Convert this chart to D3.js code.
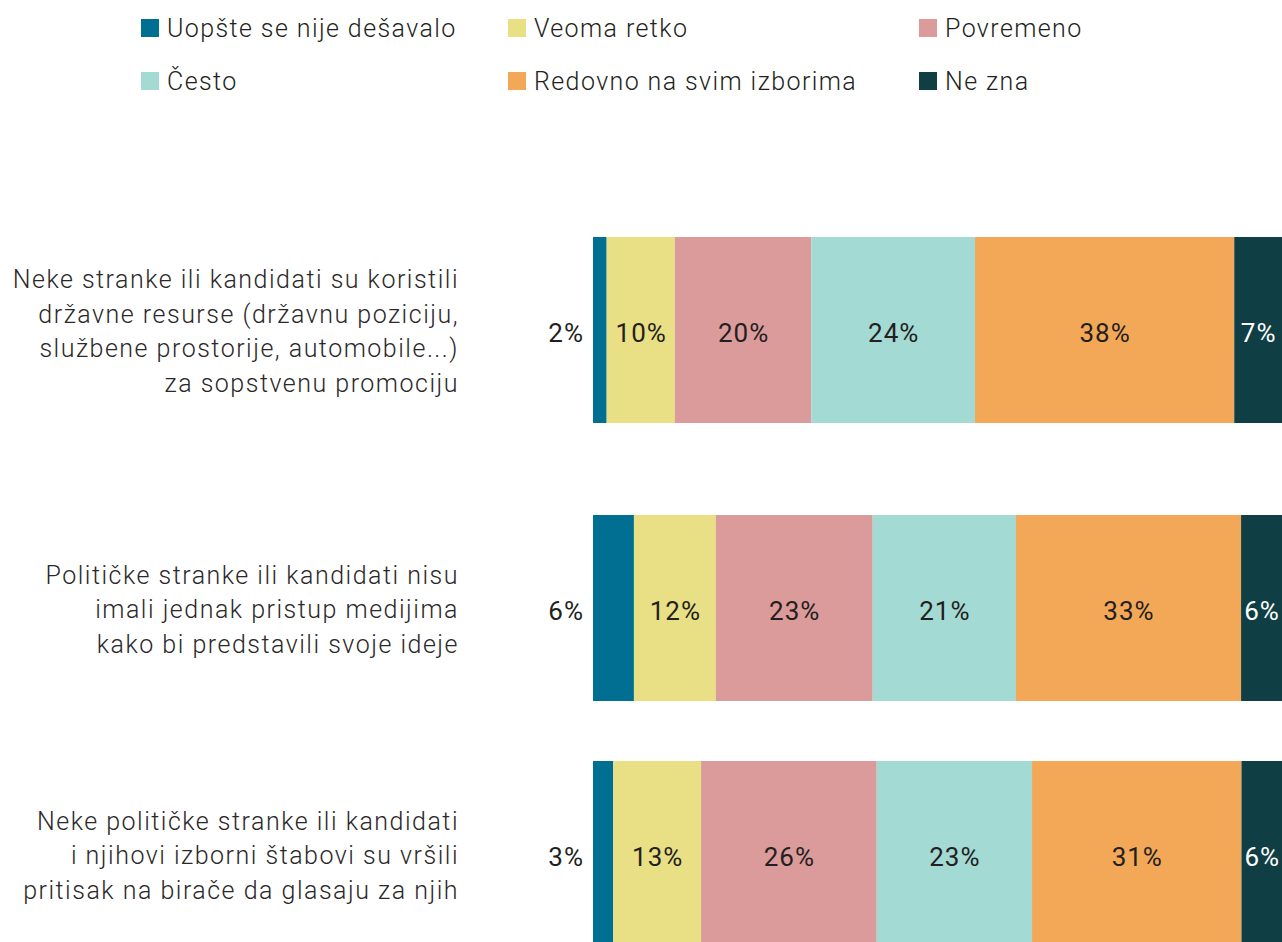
<!DOCTYPE html>
<html>
<head>
<meta charset="utf-8">
<script src="https://cdn.jsdelivr.net/npm/d3@7"></script>
<style>
  html, body { margin: 0; padding: 0; background: #fff; }
  svg { display: block; }
  text { font-family: Roboto, "Noto Sans", sans-serif; }
</style>
</head>
<body>
<svg id="chart" width="1282" height="942"></svg>
<script>
// ---------- data ----------
const categories = [
  "Neke stranke ili kandidati su koristili državne resurse (državnu poziciju, službene prostorije, automobile...) za sopstvenu promociju",
  "Političke stranke ili kandidati nisu imali jednak pristup medijima kako bi predstavili svoje ideje",
  "Neke političke stranke ili kandidati i njihovi izborni štabovi su vršili pritisak na birače da glasaju za njih"
];
const categoryLines = [
  ["Neke stranke ili kandidati su koristili", "državne resurse (državnu poziciju,", "službene prostorije, automobile...)", "za sopstvenu promociju"],
  ["Političke stranke ili kandidati nisu", "imali jednak pristup medijima", "kako bi predstavili svoje ideje"],
  ["Neke političke stranke ili kandidati", "i njihovi izborni štabovi su vršili", "pritisak na birače da glasaju za njih"]
];
const seriesNames = ["Uopšte se nije dešavalo", "Veoma retko", "Povremeno", "Često", "Redovno na svim izborima", "Ne zna"];
const uopsteSeNijeDesavalo = [2, 6, 3];
const veomaRetko = [10, 12, 13];
const povremeno = [20, 23, 26];
const cesto = [24, 21, 23];
const redovnoNaSvimIzborima = [38, 33, 31];
const neZna = [7, 6, 6];
const seriesColors = ["#016f92", "#e9df85", "#db9b9b", "#a3dad3", "#f3a857", "#0f3f45"];

// ---------- build table ----------
const seriesValues = [uopsteSeNijeDesavalo, veomaRetko, povremeno, cesto, redovnoNaSvimIzborima, neZna];
const table = categories.map((c, i) => {
  const row = { category: c };
  seriesNames.forEach((s, j) => row[s] = seriesValues[j][i]);
  return row;
});
const stacked = d3.stack().keys(seriesNames).offset(d3.stackOffsetExpand)(table);

// ---------- layout ----------
const svg = d3.select("#chart");
const x = d3.scaleLinear().domain([0, 1]).range([593, 1282]);
const yTop = d3.scaleOrdinal().domain(categories).range([237, 515, 761]);
const barH = 186;
const color = d3.scaleOrdinal().domain(seriesNames).range(seriesColors);
const textColor = "#231f20";

// ---------- legend ----------
const legendCol = d3.scaleOrdinal().domain([0, 1, 2]).range([141, 508, 919]);
const legendRow = d3.scaleOrdinal().domain([0, 1]).range([19, 72]);
const legend = svg.append("g").selectAll("g").data(seriesNames).join("g")
  .attr("transform", (d, i) => `translate(${legendCol(i % 3)},${legendRow(Math.floor(i / 3))})`);
legend.append("rect").attr("width", 18).attr("height", 18).attr("fill", d => color(d));
legend.append("text").attr("x", 26).attr("y", 18)
  .attr("font-size", 25).attr("font-weight", 300).attr("letter-spacing", 1.4)
  .attr("fill", textColor).text(d => d);

// ---------- bars ----------
const layers = svg.append("g").selectAll("g").data(stacked).join("g")
  .attr("fill", d => color(d.key));
layers.selectAll("rect").data(d => d).join("rect")
  .attr("x", d => x(d[0]))
  .attr("y", d => yTop(d.data.category))
  .attr("width", d => x(d[1]) - x(d[0]))
  .attr("height", barH);

// ---------- value labels ----------
stacked.forEach((layer, si) => {
  svg.append("g").selectAll("text").data(layer).join("text")
    .attr("x", d => si === 0 ? x(d[0]) - 9 : (x(d[0]) + x(d[1])) / 2 + 0.5)
    .attr("y", d => yTop(d.data.category) + barH / 2 + 12)
    .attr("text-anchor", si === 0 ? "end" : "middle")
    .attr("font-size", 26)
    .attr("font-weight", 400)
    .attr("letter-spacing", 1)
    .attr("fill", si === seriesNames.length - 1 ? "#ffffff" : textColor)
    .text(d => d.data[layer.key] + "%");
});

// ---------- category labels ----------
const lineH = 34.5;
const catG = svg.append("g").selectAll("text").data(categories).join("text")
  .attr("text-anchor", "end")
  .attr("font-size", 25)
  .attr("font-weight", 300)
  .attr("letter-spacing", 1.5)
  .attr("fill", "#2b2829");
catG.each(function (c, i) {
  const lines = categoryLines[i];
  const mid = yTop(c) + barH / 2 + 10;
  d3.select(this).selectAll("tspan").data(lines).join("tspan")
    .attr("x", 459)
    .attr("y", (l, k) => mid + (k - (lines.length - 1) / 2) * lineH)
    .text(l => l);
});
</script>
</body>
</html>
